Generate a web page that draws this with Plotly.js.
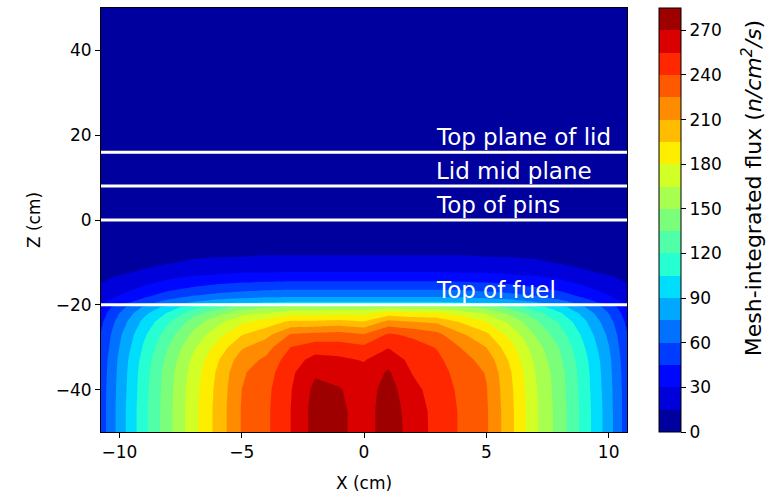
<!DOCTYPE html>
<html>
<head>
<meta charset="utf-8">
<script src="https://cdn.plot.ly/plotly-3.0.1.min.js"></script>
<style>html,body{margin:0;padding:0;background:#fff;}#chart{width:768px;height:493px;}</style>
</head>
<body>
<div id="chart"></div>
<script>
// X positions (cm) of mesh columns
var xCm = [-10.75, -10, -9, -8, -7, -6, -5, -4, -3, -2, -1, 0, 1, 2, 3, 4, 5, 6, 7, 8, 9, 10, 10.75];
// Z positions (cm) of mesh rows
var zCm = [-50, -45, -40, -36, -33, -30, -27, -24, -22, -20.5, -19.5, -18, -16, -14, -12, -10, -8, -5, 0, 10, 50];

// Mesh-integrated flux, one row per Z value
var fluxZm50  = [52, 81, 115, 145, 174, 200, 226, 237, 255, 276, 273, 264, 277, 265, 249, 238, 227, 199, 168, 143, 114, 82, 52];
var fluxZm45  = [52, 81, 115, 145, 174, 200, 226, 237, 255, 276, 273, 264, 277, 264, 249, 238, 227, 199, 168, 143, 114, 82, 52];
var fluxZm40  = [52, 80, 114, 144, 173, 199, 225, 236, 254, 274, 271, 263, 276, 260, 247, 237, 226, 198, 167, 142, 113, 81, 52];
var fluxZm36  = [51, 79, 113, 143, 171, 197, 223, 233, 252, 268, 265, 260, 272, 254, 245, 235, 224, 196, 165, 141, 112, 80, 51];
var fluxZm33  = [50, 78, 111, 140, 168, 193, 218, 228, 248, 260, 258, 254, 265, 250, 243, 231, 219, 192, 162, 138, 110, 79, 50];
var fluxZm30  = [48, 75, 107, 135, 162, 185, 208, 219, 240, 248, 247, 243, 254, 246, 239, 224, 210, 185, 157, 134, 106, 76, 48];
var fluxZm27  = [46, 72, 102, 128, 153, 174, 194, 205, 226, 229, 231, 226, 242, 237, 229, 212, 198, 175, 149, 127, 101, 72, 46];
var fluxZm24  = [42, 66, 94, 118, 141, 160, 177, 186, 198, 198, 200, 196, 215, 210, 207, 193, 180, 161, 138, 118, 93, 66, 42];
var fluxZm22  = [38, 60, 86, 107, 128, 145, 160, 167, 175, 175, 177, 176, 187, 183, 182, 174, 163, 146, 126, 107, 85, 60, 38];
var fluxZm205 = [34, 54, 77, 96, 114, 128, 142, 147, 151, 152, 153, 155, 158, 156, 155, 150, 144, 129, 112, 96, 76, 54, 34];
var fluxZm195 = [28, 39, 54, 67, 77, 84, 88, 91, 93, 93, 93, 93, 93, 93, 93, 91, 88, 84, 77, 67, 54, 39, 28];
var fluxZm18  = [22, 31, 42, 53, 61, 66, 69, 72, 73, 73, 73, 73, 73, 73, 73, 72, 69, 66, 61, 53, 42, 31, 22];
var fluxZm16  = [17, 24, 32, 40, 46, 50, 53, 55, 56, 56, 56, 56, 56, 56, 56, 55, 53, 50, 46, 40, 32, 24, 17];
var fluxZm14  = [13, 18, 24, 30, 35, 38, 40, 41, 42, 42, 42, 42, 42, 42, 42, 41, 40, 38, 35, 30, 24, 18, 13];
var fluxZm12  = [8, 12, 16, 20, 23, 25, 27, 27, 28, 28, 28, 28, 28, 28, 28, 27, 27, 25, 23, 20, 16, 12, 8];
var fluxZm10  = [6, 8, 12, 14, 17, 18, 19, 20, 20, 20, 20, 20, 20, 20, 20, 20, 19, 18, 17, 14, 12, 8, 6];
var fluxZm8   = [4, 6, 8, 10, 12, 13, 13, 14, 14, 14, 14, 14, 14, 14, 14, 14, 13, 13, 12, 10, 8, 6, 4];
var fluxZm5   = [2, 3, 5, 6, 7, 7, 8, 8, 8, 8, 8, 8, 8, 8, 8, 8, 8, 7, 7, 6, 5, 3, 2];
var fluxZ0    = [1, 1, 2, 2, 2, 3, 3, 3, 3, 3, 3, 3, 3, 3, 3, 3, 3, 3, 2, 2, 2, 1, 1];
var fluxZ10   = [0, 0, 1, 1, 1, 1, 1, 1, 1, 1, 1, 1, 1, 1, 1, 1, 1, 1, 1, 1, 1, 0, 0];
var fluxZ50   = [0, 0, 0, 0, 0, 0, 0, 0, 0, 0, 0, 0, 0, 0, 0, 0, 0, 0, 0, 0, 0, 0, 0];

var fluxRows = [fluxZm50, fluxZm45, fluxZm40, fluxZm36, fluxZm33, fluxZm30, fluxZm27, fluxZm24,
  fluxZm22, fluxZm205, fluxZm195, fluxZm18, fluxZm16, fluxZm14, fluxZm12, fluxZm10, fluxZm8,
  fluxZm5, fluxZ0, fluxZ10, fluxZ50];

// Marked planes
var planeZ = [16, 8, 0, -20];
var planeLabels = ['Top plane of lid', 'Lid mid plane', 'Top of pins', 'Top of fuel'];
var labelX = 2.85;

// Contour levels
var levelMin = 0, levelMax = 285, levelStep = 15;
var cbTicks = [0, 30, 60, 90, 120, 150, 180, 210, 240, 270];
var cbTitle = 'Mesh-integrated flux (<i>n/cm<sup>2</sup>/s</i>)';

var xRange = [-10.75, 10.75];
var zRange = [-50, 50];

// matplotlib 'jet'
function interp(pts, t) {
  for (var i = 0; i < pts.length - 1; i++) {
    var a = pts[i], b = pts[i + 1];
    if (t >= a[0] && t <= b[0]) {
      return a[1] + (b[1] - a[1]) * (t - a[0]) / (b[0] - a[0]);
    }
  }
  return pts[pts.length - 1][1];
}
var jr = [[0, 0], [0.35, 0], [0.66, 1], [0.89, 1], [1, 0.5]];
var jg = [[0, 0], [0.125, 0], [0.375, 1], [0.64, 1], [0.91, 0], [1, 0]];
var jb = [[0, 0.5], [0.11, 1], [0.34, 1], [0.65, 0], [1, 0]];
function jet(t) {
  return 'rgb(' + Math.round(255 * interp(jr, t)) + ',' + Math.round(255 * interp(jg, t)) + ',' + Math.round(255 * interp(jb, t)) + ')';
}
var nBands = Math.round((levelMax - levelMin) / levelStep);
var colorscale = [];
for (var k = 0; k < nBands; k++) {
  colorscale.push([k / (nBands - 1), jet((k + 0.5) / nBands)]);
}

var font = 'DejaVu Sans, sans-serif';

var trace = {
  type: 'contour',
  x: xCm,
  y: zCm,
  z: fluxRows,
  zmin: levelMin,
  zmax: levelMax,
  zauto: false,
  autocontour: false,
  contours: {start: levelMin + levelStep, end: levelMax - levelStep, size: levelStep, coloring: 'fill', showlines: false},
  line: {width: 0, smoothing: 0},
  colorscale: colorscale,
  hoverinfo: 'skip',
  colorbar: {
    x: 1.061, xanchor: 'left', xpad: 0,
    y: 0.5, yanchor: 'middle', ypad: 0,
    len: 1, lenmode: 'fraction',
    thickness: 22, thicknessmode: 'pixels',
    outlinecolor: '#000', outlinewidth: 1,
    ticks: 'outside', ticklen: 5, tickwidth: 1, tickcolor: '#000',
    tickvals: cbTicks,
    tickfont: {family: font, size: 17, color: '#000'}
  }
};

var shapes = planeZ.map(function (z) {
  return {type: 'line', xref: 'x', yref: 'y', x0: xRange[0], x1: xRange[1], y0: z, y1: z,
    line: {color: '#fff', width: 3}, layer: 'above'};
});
var annotations = planeZ.map(function (z, i) {
  return {xref: 'x', yref: 'y', x: labelX, y: z, text: planeLabels[i], showarrow: false,
    xanchor: 'left', yanchor: 'bottom', yshift: 0,
    font: {family: font, size: 23, color: '#fff'}};
});
annotations.push({
  xref: 'paper', yref: 'paper', x: 1.2376, y: 0.575, xanchor: 'center', yanchor: 'middle',
  text: cbTitle, textangle: -90, showarrow: false,
  font: {family: font, size: 22, color: '#000'}
});

var layout = {
  width: 768, height: 493,
  margin: {l: 101, r: 141, t: 8, b: 61},
  paper_bgcolor: '#fff', plot_bgcolor: '#fff',
  showlegend: false,
  font: {family: font, color: '#000'},
  xaxis: {
    range: xRange, tick0: 0, dtick: 5, ticks: 'outside', ticklen: 5, tickwidth: 1, tickcolor: '#000',
    showline: true, linecolor: '#000', linewidth: 1, mirror: true, showgrid: false, zeroline: false,
    tickfont: {family: font, size: 17, color: '#000'},
    title: {text: 'X (cm)', font: {family: font, size: 17, color: '#000'}, standoff: 16}
  },
  yaxis: {
    range: zRange, tick0: 0, dtick: 20, ticks: 'outside', ticklen: 5, tickwidth: 1, tickcolor: '#000',
    showline: true, linecolor: '#000', linewidth: 1, mirror: true, showgrid: false, zeroline: false,
    tickfont: {family: font, size: 17, color: '#000'},
    title: {text: 'Z (cm)', font: {family: font, size: 17, color: '#000'}, standoff: 10}
  },
  shapes: shapes,
  annotations: annotations
};

Plotly.newPlot('chart', [trace], layout, {displayModeBar: false, staticPlot: true});
</script>
</body>
</html>
